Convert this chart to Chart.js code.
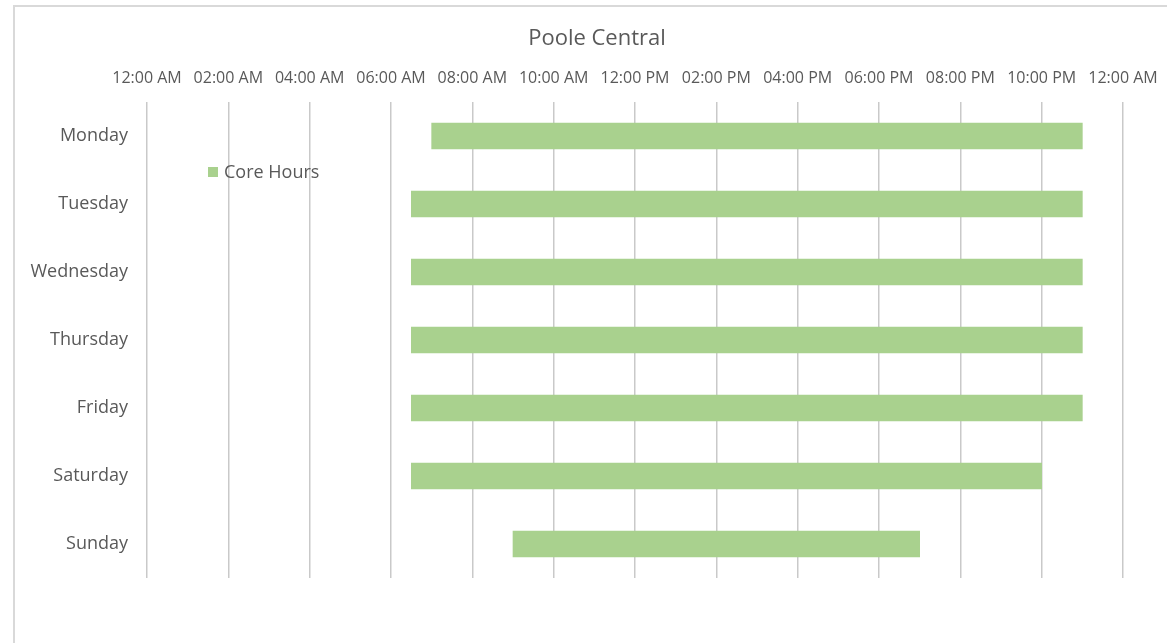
<!DOCTYPE html>
<html>
<head>
<meta charset="utf-8">
<script src="https://cdn.jsdelivr.net/npm/chart.js@4/dist/chart.umd.min.js"></script>
<style>
    html, body { margin: 0; padding: 0; background: #fff; overflow: hidden; }
    #wrap { position: relative; width: 1167px; height: 643px; }
    #frame { position: absolute; left: 13px; top: 5px; width: 1300px; height: 800px; border: 2px solid #d9d9d9; box-sizing: border-box; }
    canvas { position: absolute; left: 0; top: 0; }
</style>
</head>
<body>
<div id="wrap">
    <div id="frame"></div>
    <canvas id="chart" width="1167" height="643"></canvas>
</div>
<script>
const days = ['Monday', 'Tuesday', 'Wednesday', 'Thursday', 'Friday', 'Saturday', 'Sunday'];
// opening and closing time in hours from midnight
const openHours = [7, 6.5, 6.5, 6.5, 6.5, 6.5, 9];
const closeHours = [23, 23, 23, 23, 23, 22, 19];
const seriesName = 'Core Hours';
const chartTitle = 'Poole Central';

function hourLabel(h){
    let hh = h % 24;
    let ampm = hh < 12 ? 'AM' : 'PM';
    let h12 = hh % 12 === 0 ? 12 : hh % 12;
    return String(h12).padStart(2, '0') + ':00 ' + ampm;
}

const textColor = '#595959';
const fontFamily = '"Open Sans", sans-serif';

// title and legend are placed by hand, the original chart is wider than the crop
const extras = {
    id: 'extras',
    afterDraw(chart){
        let ctx = chart.ctx;
        let ds = chart.data.datasets[0];
        ctx.save();
        ctx.fillStyle = textColor;
        ctx.font = '22px ' + fontFamily;
        ctx.textAlign = 'center';
        ctx.textBaseline = 'middle';
        ctx.fillText(chartTitle, 597, 39);

        ctx.fillStyle = ds.backgroundColor;
        ctx.fillRect(208, 167, 10, 10);
        ctx.fillStyle = textColor;
        ctx.font = '18px ' + fontFamily;
        ctx.textAlign = 'left';
        ctx.fillText(ds.label, 224, 173);
        ctx.restore();
    }
};

const data = {
    labels: days,
    datasets: [{
        label: seriesName,
        data: days.map((d, i) => [openHours[i], closeHours[i]]),
        backgroundColor: '#a9d18e',
        borderWidth: 0,
        barThickness: 26
    }]
};

const config = {
    type: 'bar',
    data: data,
    options: {
        indexAxis: 'y',
        responsive: false,
        animation: false,
        layout: { padding: { left: 0, right: 44, top: 62, bottom: 65 } },
        plugins: {
            legend: { display: false },
            tooltip: { enabled: false },
            title: { display: false }
        },
        scales: {
            x: {
                position: 'top',
                min: 0,
                max: 24,
                afterFit: s => { s.height = 40; s.paddingLeft = 0; s.paddingRight = 0; },
                ticks: {
                    stepSize: 2,
                    autoSkip: false,
                    maxRotation: 0,
                    padding: 14,
                    color: textColor,
                    font: { family: fontFamily, size: 16 },
                    callback: v => hourLabel(v)
                },
                grid: { color: '#c9c9c9', lineWidth: 1.5, drawTicks: false },
                border: { display: false }
            },
            y: {
                afterFit: s => { s.width = 147; },
                ticks: {
                    padding: 19,
                    color: textColor,
                    font: { family: fontFamily, size: 18 }
                },
                grid: { display: false, drawTicks: false },
                border: { display: false }
            }
        }
    },
    plugins: [extras]
};

let ctx = document.getElementById('chart').getContext('2d');
new Chart(ctx, config);
</script>
</body>
</html>
